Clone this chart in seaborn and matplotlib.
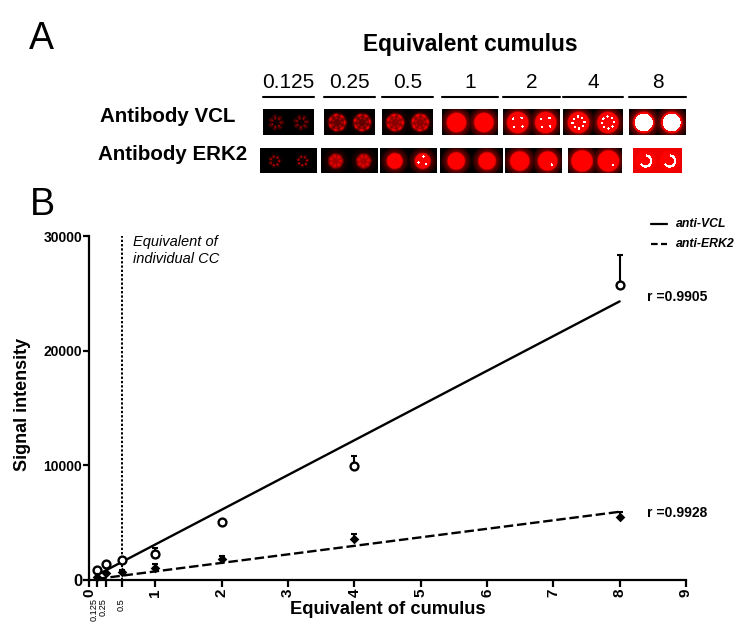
import numpy as np
import pandas as pd
import matplotlib
matplotlib.use('Agg')
import matplotlib.pyplot as plt
from matplotlib.colors import LinearSegmentedColormap
import seaborn as sns

# panel B values
cumulus = [0.125, 0.25, 0.5, 1, 2, 4, 8]
vcl = [870, 1400, 1750, 2270, 5060, 9900, 25700]
vcl_err = [0, 0, 0, 500, 0, 900, 2600]
erk = [260, 610, 700, 1050, 1830, 3570, 5500]
erk_err = [0, 0, 200, 350, 250, 450, 400]
fit_x = [0.125, 8]
fit_vcl = [450, 24300]
fit_erk = [100, 5950]
x_small = [0.125, 0.25, 0.5]
x_small_labels = ['0.125', '0.25', '0.5']

# panel A labels and spot look (one entry per dilution)
dilutions = ['0.125', '0.25', '0.5', '1', '2', '4', '8']
vcl_peak = [0.7, 0.85, 0.85, 0.75, 0.75, 0.75, 0.75]
erk_peak = [0.7, 0.85, 0.85, 0.75, 0.75, 0.75, 0.75]
vcl_radius = [8, 10, 10, 11, 12, 12, 12]
erk_radius = [7, 8, 9, 10, 11, 12, 12]
vcl_texture = [1, 0.7, 0.55, 0, 0, 0, 0]
erk_texture = [1, 0.45, 0.15, 0, 0, 0, 0]
vcl_specks = [0, 0, 0, 0, 4, 8, 0]
erk_specks = [0, 0, 3, 0, 1, 1, 0]
vcl_core = [0, 0, 0, 0, 0, 0, 9]
erk_floor = [0, 0, 0, 0, 0, 0, 0.7]

# pixel boxes of the blots and the rules above them
vcl_x = [(263, 314), (324, 375), (382, 433), (442, 498), (503, 560), (563, 623), (629, 686)]
erk_x = [(260, 317), (321, 378), (380, 437), (440, 503), (505, 562), (568, 622), (633, 682)]

W, H = 744, 634
sns.set_style('ticks')
plt.rcParams['font.family'] = ['Liberation Sans', 'DejaVu Sans']
plt.rcParams['text.color'] = 'black'
plt.rcParams['xtick.color'] = 'black'
plt.rcParams['ytick.color'] = 'black'
plt.rcParams['axes.edgecolor'] = 'black'
fig = plt.figure(figsize=(W / 100, H / 100), dpi=100)
cmap = LinearSegmentedColormap.from_list(
    'blot', [(0, '#000000'), (0.75, '#ff0000'), (0.9, '#ff0000'), (1, '#ffffff')], N=256)


def box(x0, y0, x1, y1):
    return [x0 / W, 1 - y1 / H, (x1 - x0) / W, (y1 - y0) / H]


def label(x, y, s, **kw):
    fig.text(x / W, 1 - y / H, s, **kw)


def spot_panel(x0, x1, y0, y1, peak, rad, tex, specks, core, floor, ring=False, one_side=False):
    w, h = x1 - x0, y1 - y0
    yy, xx = np.mgrid[0:h, 0:w]
    img = np.full((h, w), float(floor))
    for k, cx in enumerate([0.25 * w, 0.74 * w]):
        cy = h * 0.5
        r = np.hypot(xx - cx, yy - cy)
        th = np.arctan2(yy - cy, xx - cx)
        solid = np.clip((rad + 1 - r) / 3, 0, 1)
        halo = 0.4 * (1 - tex) * np.clip((rad + 6 - r) / 6, 0, 1)
        s = peak * np.maximum(solid, halo)
        if tex > 0:
            band = np.clip(1 - np.abs(r - rad * 0.7) / (rad * 0.5), 0.2, 1)
            spots = (0.6 + 0.4 * np.cos(7 * th + k)) * (0.7 + 0.3 * np.cos(1.6 * r))
            s = s * ((1 - tex) + tex * band * spots)
        img = np.maximum(img, s)
        if not one_side or k == 1:
            for j in range(specks):
                a = 0.7 + j * 2 * np.pi / specks
                sx, sy = cx + rad * 0.5 * np.cos(a), cy + rad * 0.5 * np.sin(a)
                img[np.hypot(xx - sx, yy - sy) < 1.2] = 1
        if core > 0:
            img[r < core] = 1
        if ring:
            img[(np.abs(r - 5.5) < 1.2) & (np.cos(th - 0.6) > -0.5)] = 1
    ax = fig.add_axes(box(x0, y0, x1, y1))
    sns.heatmap(img, ax=ax, cmap=cmap, vmin=0, vmax=1, cbar=False, xticklabels=False, yticklabels=False)
    ax.set_xlabel('')
    ax.set_ylabel('')


# panel A
label(29, 49, 'A', fontsize=27)
label(470, 45, 'Equivalent cumulus', fontsize=16.4, fontweight='bold', ha='center', va='center')
label(168, 117, 'Antibody VCL', fontsize=14.8, fontweight='bold', ha='center', va='center')
label(173, 155, 'Antibody ERK2', fontsize=14.8, fontweight='bold', ha='center', va='center')
for i, d in enumerate(dilutions):
    x0, x1 = vcl_x[i]
    label((x0 + x1) / 2, 82, d, fontsize=15, ha='center', va='center')
    fig.add_artist(plt.Line2D([x0 / W, x1 / W], [1 - 97 / H] * 2, color='black', lw=1.5))
    spot_panel(x0, x1, 109, 135, vcl_peak[i], vcl_radius[i], vcl_texture[i],
               vcl_specks[i], vcl_core[i], 0)
    x0, x1 = erk_x[i]
    spot_panel(x0, x1, 148, 173, erk_peak[i], erk_radius[i], erk_texture[i],
               erk_specks[i], 0, erk_floor[i], ring=(i == 6), one_side=True)

# panel B
label(30, 215, 'B', fontsize=27)
ax = fig.add_axes(box(89, 236, 686, 580))
points = pd.DataFrame({'x': cumulus, 'vcl': vcl, 'erk': erk})
fits = pd.DataFrame({'x': fit_x, 'vcl': fit_vcl, 'erk': fit_erk})

ax.axvline(0.5, color='black', lw=1.4, ls=(0, (1.2, 1)), zorder=1)
sns.lineplot(data=fits, x='x', y='vcl', ax=ax, color='black', lw=1.7, zorder=2, label='_')
sns.lineplot(data=fits, x='x', y='erk', ax=ax, color='black', lw=1.7, ls=(0, (4, 1.6)), zorder=2, label='_')
ax.errorbar(cumulus, vcl, yerr=[[0] * 7, vcl_err], fmt='none', ecolor='black', elinewidth=1.5,
            capsize=2, capthick=1.5, zorder=3, clip_on=False)
ax.errorbar(cumulus, erk, yerr=[[0] * 7, erk_err], fmt='none', ecolor='black', elinewidth=1.5,
            capsize=2, capthick=1.5, zorder=3, clip_on=False)
sns.scatterplot(data=points, x='x', y='vcl', ax=ax, marker='o', s=32, facecolor='white',
                edgecolor='black', linewidth=1.7, zorder=4, clip_on=False)
sns.scatterplot(data=points, x='x', y='erk', ax=ax, marker='D', s=24, color='black',
                linewidth=0, zorder=4, clip_on=False)

ax.set_xlim(0, 9)
ax.set_ylim(0, 30000)
ax.patch.set_alpha(0)
sns.despine(ax=ax)
for s in ['left', 'bottom']:
    ax.spines[s].set_linewidth(1.6)
ax.set_yticks([0, 10000, 20000, 30000])
ax.set_yticklabels(['0', '10000', '20000', '30000'], fontsize=10, fontweight='bold')
ax.yaxis.get_ticklabels()[0].set_fontsize(12)
ax.set_xticks([0, 1, 2, 3, 4, 5, 6, 7, 8, 9])
ax.set_xticklabels([str(v) for v in range(10)], rotation=90, fontweight='bold', fontsize=11)
ax.set_xticks(x_small, minor=True)
ax.tick_params(axis='x', which='minor', width=1.6, length=5)
# the three small labels hang under the big tick labels, nudged apart
nudge = [-2.5, -1.5, -1]
for v, s, dx in zip(x_small, x_small_labels, nudge):
    ax.annotate(s, (v, 0), xytext=(dx, -13), textcoords='offset points', rotation=90,
                ha='center', va='top', fontsize=6.6, annotation_clip=False)
ax.tick_params(axis='y', width=1.6, length=4, pad=1)
ax.tick_params(axis='x', which='major', width=1.6, length=5, pad=1)
ax.set_xlabel('')
ax.set_ylabel('')
label(388, 610, 'Equivalent of cumulus', fontsize=13.2, fontweight='bold', ha='center', va='center')
label(23, 404, 'Signal intensity', fontsize=13, fontweight='bold', rotation=90, ha='center', va='center')
label(133, 242, 'Equivalent of', fontsize=10.5, style='italic', va='center')
label(133, 259, 'individual CC', fontsize=10.5, style='italic', va='center')
label(647, 297, 'r =0.9905', fontsize=10, fontweight='bold', va='center')
label(647, 513, 'r =0.9928', fontsize=10, fontweight='bold', va='center')
label(676, 224, 'anti-VCL', fontsize=8.8, fontweight='bold', style='italic', va='center')
label(676, 244, 'anti-ERK2', fontsize=8.8, fontweight='bold', style='italic', va='center')
fig.add_artist(plt.Line2D([651 / W, 667 / W], [1 - 224 / H] * 2, color='black', lw=1.6))
fig.add_artist(plt.Line2D([651 / W, 667 / W], [1 - 244 / H] * 2, color='black', lw=1.6, ls=(0, (3, 1.5))))

fig.savefig('out.png', dpi=100)
